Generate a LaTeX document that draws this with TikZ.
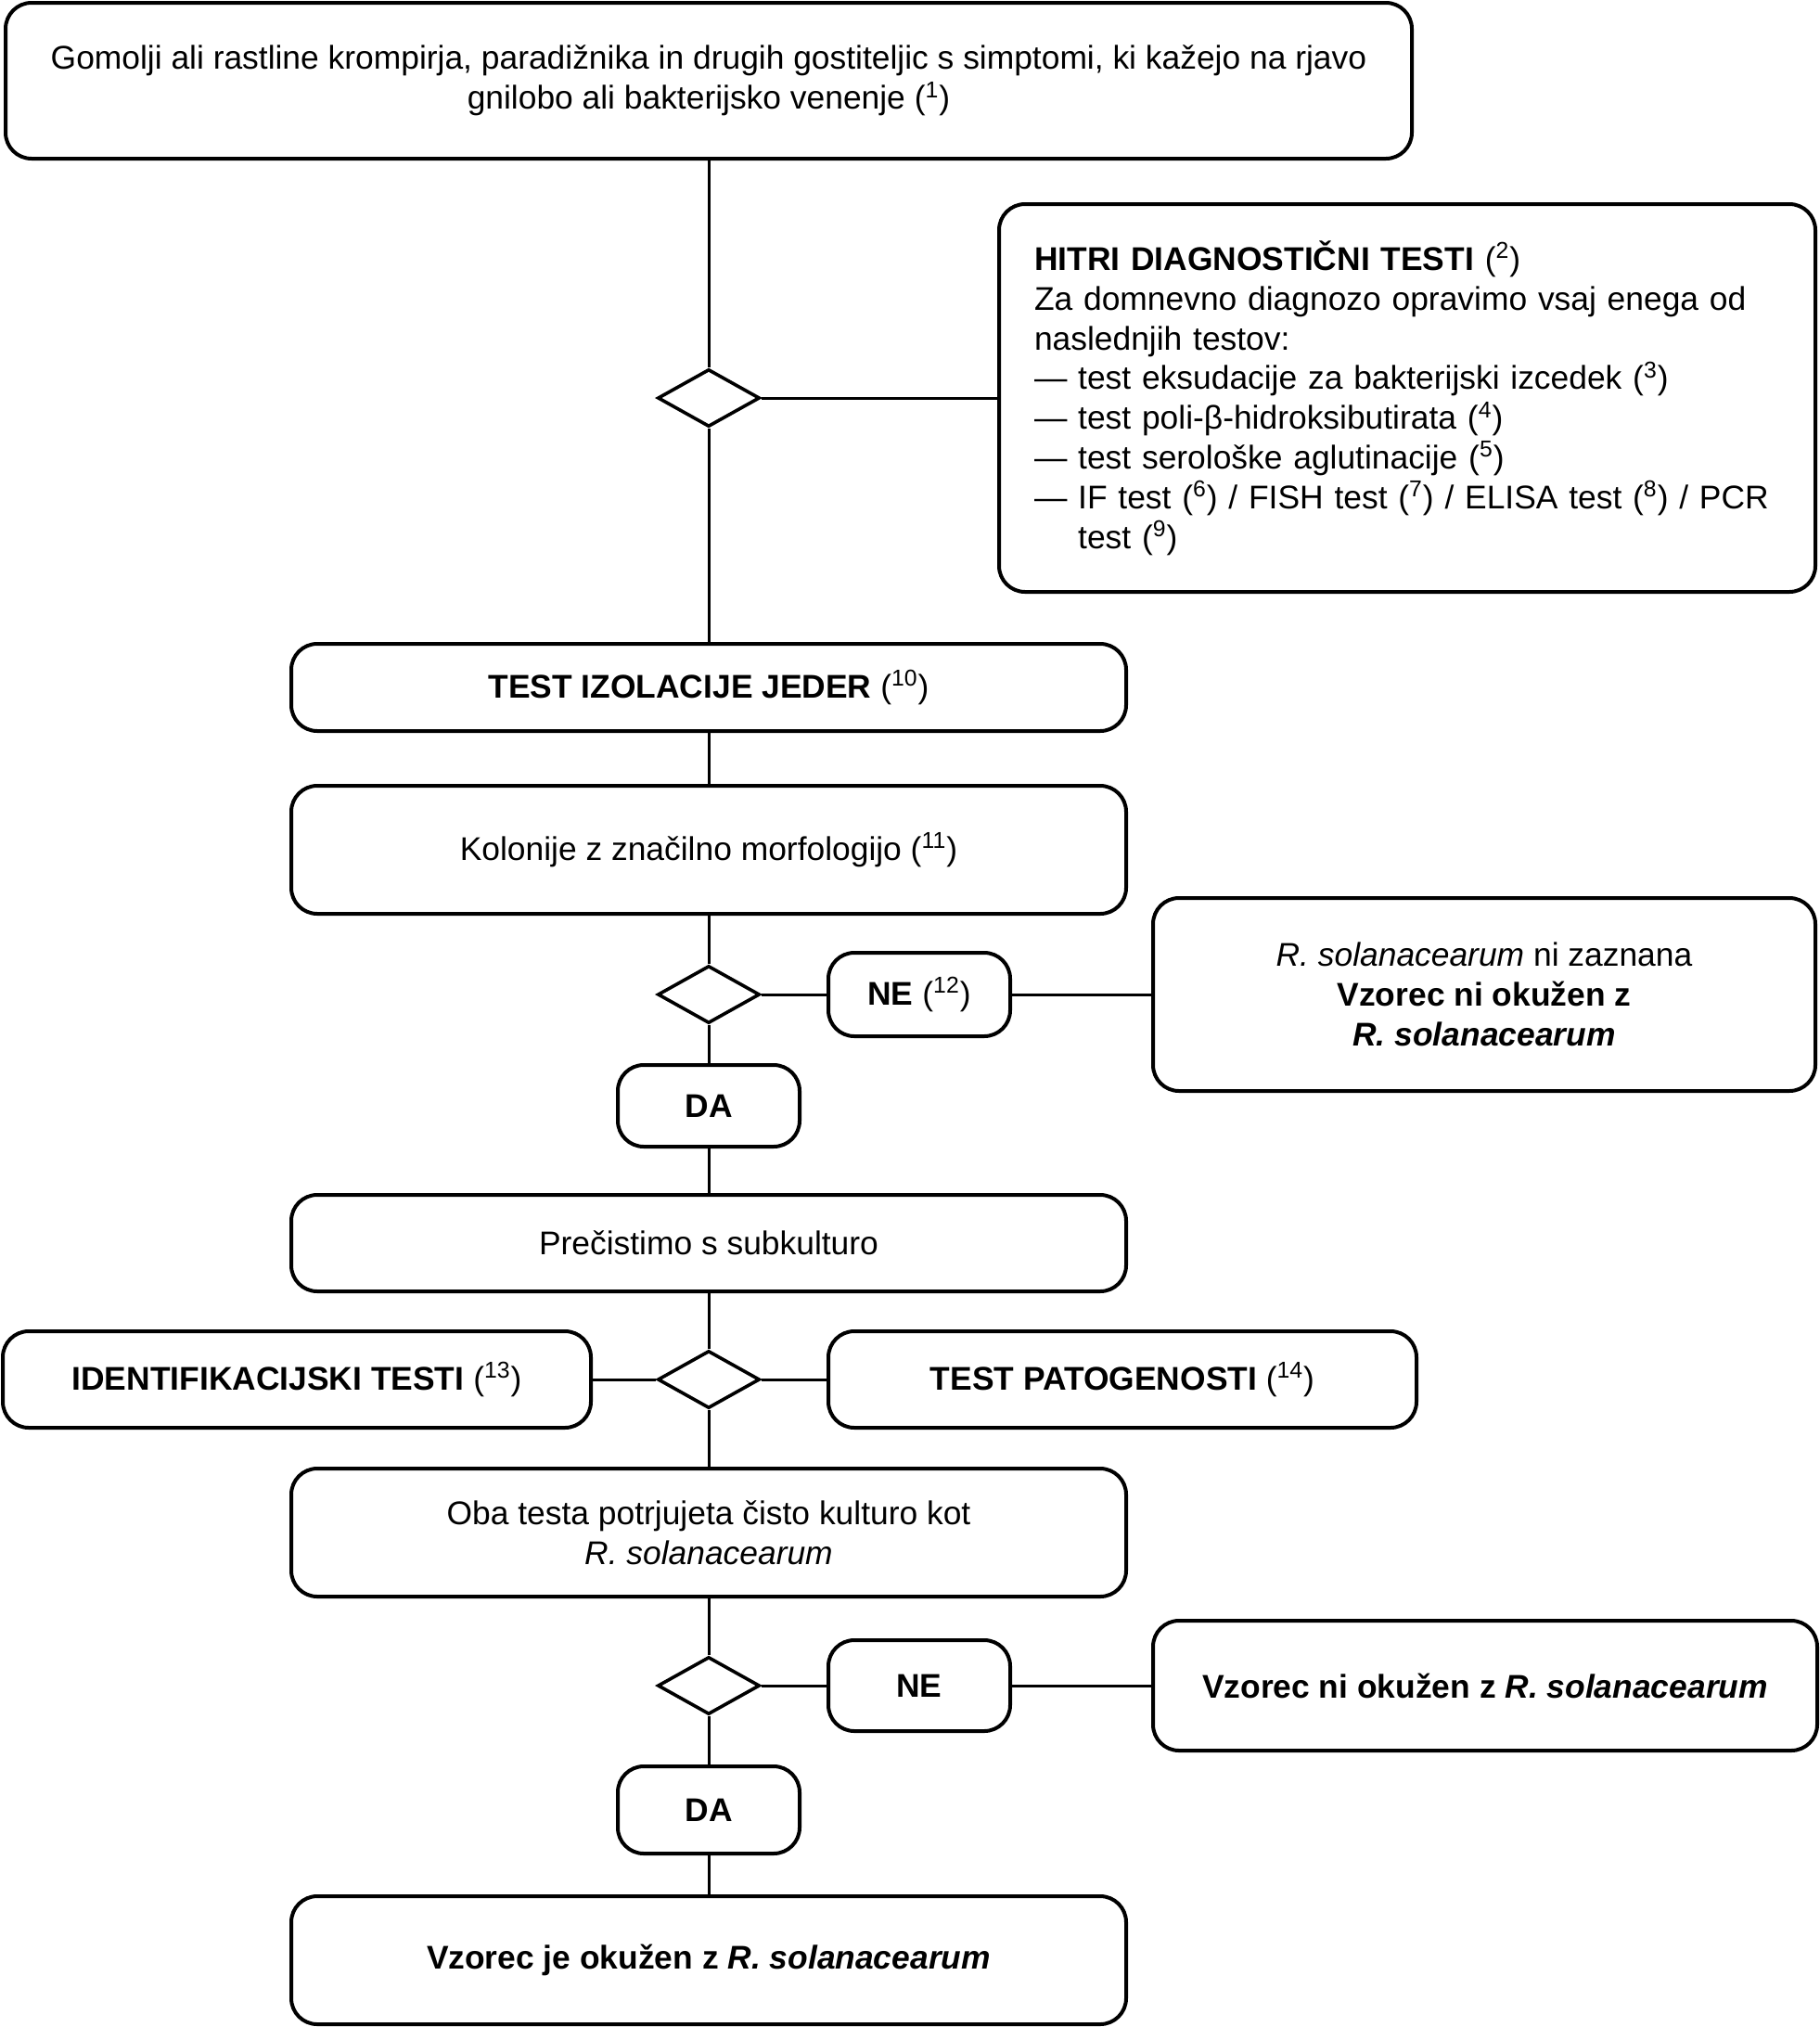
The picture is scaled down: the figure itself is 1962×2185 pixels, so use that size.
\documentclass[tikz,border=0pt]{standalone}
\usepackage{fontspec}
\setmainfont{Liberation Sans}
\usepackage{tikz}
\usetikzlibrary{shapes.geometric}

\tikzset{
	flowbox/.style={draw, line width=2pt, rounded corners=14pt, align=center, inner sep=0pt},
	choice/.style={draw, diamond, line width=1.8pt, minimum width=55pt, minimum height=31pt, inner sep=0pt},
	link/.style={line width=1.5pt}
}
\newcommand{\fnref}[1]{(\textsuperscript{#1})}
\newcommand{\rsol}{\textit{R.~solanacearum}}

\begin{document}
\begin{tikzpicture}[x=0.5pt, y=-0.5pt, font=\fontsize{17.7}{21.4}\selectfont]
	\useasboundingbox (0,0) rectangle (1962,2185);
	
	% glavni stolpec
	\node[flowbox, minimum width=758pt, minimum height=84pt] (src) at (764,87)
		{Gomolji ali rastline krompirja, paradižnika in drugih gostiteljic s simptomi, ki kažejo na rjavo\\
		 gnilobo ali bakterijsko venenje \fnref{1}};
	\node[choice] (d1) at (764,429) {};
	\node[flowbox, align=left, inner xsep=19pt, text width=402pt, minimum height=209pt] (rapid) at (1517,429)
		{\textbf{HITRI DIAGNOSTIČNI TESTI} \fnref{2}\\
		 Za domnevno diagnozo opravimo vsaj enega od\\
		 naslednjih testov:\\
		 — test eksudacije za bakterijski izcedek \fnref{3}\\
		 — test poli-β-hidroksibutirata \fnref{4}\\
		 — test serološke aglutinacije \fnref{5}\\
		 — IF test \fnref{6} / FISH test \fnref{7} / ELISA test \fnref{8} / PCR\\
		 \phantom{— }test \fnref{9}};
	\node[flowbox, minimum width=450pt, minimum height=47pt] (isol) at (764,741)
		{\textbf{TEST IZOLACIJE JEDER} \fnref{10}};
	\node[flowbox, minimum width=450pt, minimum height=69pt] (colony) at (764,916)
		{Kolonije z značilno morfologijo \fnref{11}};
	\node[choice] (d2) at (764,1072) {};
	\node[flowbox, minimum width=98pt, minimum height=45pt] (no1) at (991,1072)
		{\textbf{NE} \fnref{12}};
	\node[flowbox, minimum width=357pt, minimum height=104pt] (neg1) at (1600,1072)
		{\rsol{} ni zaznana\\ \textbf{Vzorec ni okužen z}\\ \textbf{\rsol}};
	\node[flowbox, minimum width=98pt, minimum height=44pt] (yes1) at (764,1192)
		{\textbf{DA}};
	\node[flowbox, minimum width=450pt, minimum height=52pt] (purify) at (764,1340)
		{Prečistimo s subkulturo};
	\node[choice] (d3) at (764,1487) {};
	\node[flowbox, minimum width=317pt, minimum height=52pt] (ident) at (320,1487)
		{\textbf{IDENTIFIKACIJSKI TESTI} \fnref{13}};
	\node[flowbox, minimum width=317pt, minimum height=52pt] (patho) at (1210,1487)
		{\textbf{TEST PATOGENOSTI} \fnref{14}};
	\node[flowbox, minimum width=450pt, minimum height=69pt] (both) at (764,1652)
		{Oba testa potrjujeta čisto kulturo kot\\ \rsol};
	\node[choice] (d4) at (764,1817) {};
	\node[flowbox, minimum width=98pt, minimum height=49pt] (no2) at (991,1817)
		{\textbf{NE}};
	\node[flowbox, minimum width=358pt, minimum height=70pt] (neg2) at (1601,1817)
		{\textbf{Vzorec ni okužen z \rsol}};
	\node[flowbox, minimum width=98pt, minimum height=47pt] (yes2) at (764,1951)
		{\textbf{DA}};
	\node[flowbox, minimum width=450pt, minimum height=69pt] (pos) at (764,2113)
		{\textbf{Vzorec je okužen z \rsol}};
	
	% povezave
	\draw[link] (src) -- (d1) -- (isol) -- (colony) -- (d2) -- (yes1) -- (purify) -- (d3) -- (both) -- (d4) -- (yes2) -- (pos);
	\draw[link] (d1) -- (rapid);
	\draw[link] (d2) -- (no1) -- (neg1);
	\draw[link] (d3) -- (ident);
	\draw[link] (d3) -- (patho);
	\draw[link] (d4) -- (no2) -- (neg2);
\end{tikzpicture}
\end{document}
